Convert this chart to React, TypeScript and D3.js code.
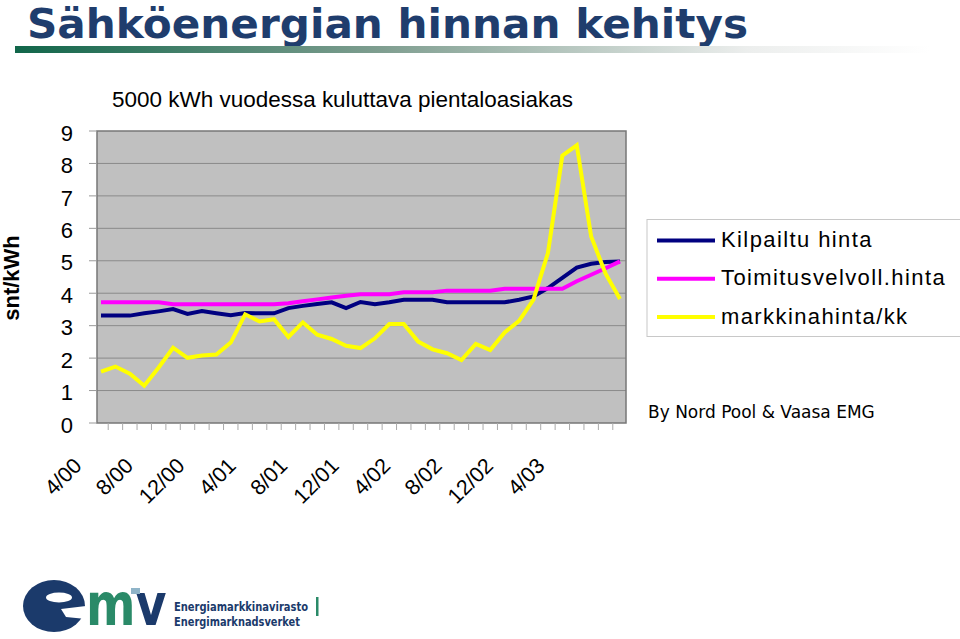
import React from "react";
import * as d3 from "d3";

const months = [
  "4/00","5/00","6/00","7/00","8/00","9/00","10/00","11/00","12/00",
  "1/01","2/01","3/01","4/01","5/01","6/01","7/01","8/01","9/01","10/01","11/01","12/01",
  "1/02","2/02","3/02","4/02","5/02","6/02","7/02","8/02","9/02","10/02","11/02","12/02",
  "1/03","2/03","3/03","4/03",
];
const axisLabels = ["4/00","8/00","12/00","4/01","8/01","12/01","4/02","8/02","12/02","4/03"];
const yTicks = [0, 1, 2, 3, 4, 5, 6, 7, 8, 9];

const kilpailtu = [3.31,3.31,3.31,3.38,3.44,3.51,3.36,3.45,3.38,3.32,3.39,3.38,3.38,3.54,3.61,3.67,3.72,3.54,3.73,3.66,3.72,3.80,3.80,3.80,3.72,3.72,3.72,3.72,3.72,3.80,3.90,4.16,4.47,4.79,4.91,4.96,4.98];
const toimitus = [3.72,3.72,3.72,3.72,3.72,3.66,3.66,3.66,3.66,3.66,3.66,3.66,3.66,3.69,3.75,3.81,3.87,3.92,3.97,3.97,3.97,4.03,4.03,4.03,4.08,4.08,4.08,4.08,4.14,4.14,4.14,4.14,4.14,4.37,4.57,4.77,4.98];
const markkina = [1.58,1.74,1.52,1.15,1.71,2.32,2.01,2.08,2.11,2.48,3.35,3.13,3.20,2.65,3.10,2.72,2.59,2.38,2.31,2.61,3.05,3.05,2.51,2.27,2.15,1.94,2.44,2.25,2.79,3.15,3.80,5.24,8.24,8.56,5.75,4.60,3.82];

const seriesNames = ["Kilpailtu hinta", "Toimitusvelvoll.hinta", "markkinahinta/kk"];
const seriesColors = ["#000080", "#FF00FF", "#FFFF00"];
const seriesData = [kilpailtu, toimitus, markkina];

export default function App() {
  const W = 960, H = 639;
  const plot = { left: 97, right: 626, top: 131, bottom: 423 };
  const x = d3.scalePoint<number>().domain(d3.range(months.length)).range([101, 620]);
  const step = x.step();
  const y = d3.scaleLinear().domain([0, 9]).range([plot.bottom, plot.top]);
  const labelX = d3.scalePoint<string>().domain(axisLabels).range([83, 546]);
  const line = d3.line<number>().x((_, i) => x(i) as number).y((d) => y(d));
  const tickXs = d3.range(months.length + 1).map((i) => (x(0) as number) - step / 2 + i * step).filter((t) => t >= plot.left - 0.5 && t <= plot.right + 0.5);
  const legendY = d3.scalePoint<string>().domain(seriesNames).range([240.5, 317]);
  const font = "'Liberation Sans', Arial, sans-serif";
  const navy = "#1B3A6B";
  const teal = "#2A8A68";

  return (
    <svg width={W} height={H} style={{ position: "absolute", left: 0, top: 0, background: "#fff" }}>
      <defs>
        <linearGradient id="tbar" x1="0" x2="1" y1="0" y2="0">
          <stop offset="0" stopColor="#11664a" />
          <stop offset="0.4" stopColor="#7f9e90" />
          <stop offset="0.8" stopColor="#eceeed" />
          <stop offset="1" stopColor="#ffffff" />
        </linearGradient>
      </defs>
      {/* Title */}
      <text x={27} y={38} fontFamily="'DejaVu Sans', Verdana, sans-serif" fontWeight="bold" fontSize={41} fill="#1F3D6D" textLength={721} lengthAdjust="spacingAndGlyphs">
        Sähköenergian hinnan kehitys
      </text>
      <rect x={15} y={46} width={915} height={7} fill="url(#tbar)" />

      {/* Subtitle */}
      <text x={112} y={107} fontFamily={font} fontSize={21.5} fill="#000" textLength={461} lengthAdjust="spacingAndGlyphs">5000 kWh vuodessa kuluttava pientaloasiakas</text>

      {/* Y axis title */}
      <text transform={`translate(19,278) rotate(-90)`} textAnchor="middle" fontFamily={font} fontWeight="bold" fontSize={22} fill="#000">snt/kWh</text>

      {/* Plot background */}
      <rect x={plot.left} y={plot.top} width={plot.right - plot.left} height={plot.bottom - plot.top} fill="#C0C0C0" />
      {yTicks.filter((t) => t > 0 && t < 9).map((t) => (
        <line key={"g" + t} x1={plot.left} x2={plot.right} y1={y(t)} y2={y(t)} stroke="#8a8a8a" strokeWidth={1} />
      ))}
      <rect x={plot.left} y={plot.top} width={plot.right - plot.left} height={plot.bottom - plot.top} fill="none" stroke="#777" strokeWidth={1.5} />

      {/* Y ticks & labels */}
      {yTicks.map((t) => (
        <g key={"y" + t}>
          <line x1={plot.left - 8} x2={plot.left} y1={y(t)} y2={y(t)} stroke="#999" strokeWidth={1} />
          <text x={73} y={y(t) + 2} dy="0.35em" textAnchor="end" fontFamily={font} fontSize={22} fill="#000">{t}</text>
        </g>
      ))}

      {/* X ticks */}
      {tickXs.map((t, i) => (
        <line key={"xt" + i} x1={t} x2={t} y1={plot.bottom} y2={plot.bottom + 7} stroke="#aaa" strokeWidth={1} />
      ))}
      {axisLabels.map((l) => (
        <text key={l} transform={`translate(${labelX(l)},467) rotate(-45)`} textAnchor="end" fontFamily={font} fontSize={21.5} fill="#000">{l}</text>
      ))}

      {/* Series */}
      {seriesData.map((s, k) => (
        <path key={"s" + k} d={line(s) || ""} fill="none" stroke={seriesColors[k]} strokeWidth={4} strokeLinejoin="miter" />
      ))}

      {/* Legend */}
      <rect x={647} y={219.5} width={320} height={117} fill="#fff" stroke="#c8c8c8" strokeWidth={1} />
      {seriesNames.map((n, k) => (
        <g key={n}>
          <line x1={657} x2={715} y1={legendY(n)} y2={legendY(n)} stroke={seriesColors[k]} strokeWidth={4} />
          <text x={721} y={(legendY(n) as number) + 6.5} fontFamily={font} fontSize={22} letterSpacing={1.4} fill="#000">{n}</text>
        </g>
      ))}
      <text x={648} y={418} fontFamily="'DejaVu Sans', Verdana, sans-serif" fontSize={17} fill="#000">By Nord Pool &amp; Vaasa EMG</text>

      {/* Logo */}
      <g>
        <ellipse cx={54} cy={606} rx={31} ry={26} fill={navy} />
        <ellipse cx={59} cy={597.5} rx={13} ry={5} fill="#fff" />
        <path d="M61,609 L86,606 L86,619 L66,617 Z" fill="#fff" />
        <text transform="translate(86,625) scale(0.82,1)" fontFamily="'DejaVu Sans', sans-serif" fontWeight="bold" fontSize={58}>
          <tspan fill={teal}>m</tspan><tspan fill={navy}>v</tspan>
        </text>
        <rect x={131} y={588} width={9} height={6} fill="#8FB4C8" />
        <text x={174} y={611} fontFamily="'DejaVu Sans', sans-serif" fontWeight="bold" fontSize={12} fill={navy} textLength={134} lengthAdjust="spacingAndGlyphs">Energiamarkkinavirasto</text>
        <text x={174} y={626} fontFamily="'DejaVu Sans', sans-serif" fontWeight="bold" fontSize={12} fill={navy} textLength={126} lengthAdjust="spacingAndGlyphs">Energimarknadsverket</text>
        <rect x={316} y={597} width={2.5} height={19} fill={teal} />
      </g>
    </svg>
  );
}
